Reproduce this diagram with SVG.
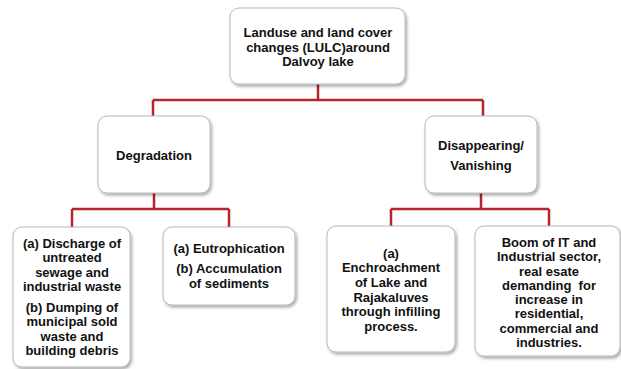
<svg xmlns="http://www.w3.org/2000/svg" width="621" height="369" viewBox="0 0 621 369">
<style>
.box{fill:#ffffff;stroke:#b8b8b8;stroke-width:1;filter:url(#sh)}
.t{font-family:"Liberation Sans",Arial,sans-serif;font-weight:bold;font-size:13px;fill:#111111;text-anchor:middle}
.c{fill:none;stroke:#b3262b;stroke-width:2.5}
</style>
<defs>
<filter id="sh" x="-20%" y="-20%" width="140%" height="140%">
<feDropShadow dx="1.5" dy="2" stdDeviation="1.5" flood-color="#000" flood-opacity="0.35"/>
</filter>
</defs>
<rect width="621" height="369" fill="#ffffff"/>
<g id="connectors">
<path class="c" d="M318,84 V100 M153,100 H483 M153,100 V116 M483,100 V116"/>
<path class="c" d="M154,193 V209 M72,209 H229 M72,209 V227 M229,209 V227"/>
<path class="c" d="M481,193 V209 M391,209 H549 M391,209 V226 M549,209 V226"/>
</g>
<g id="root">
<rect class="box" x="230" y="8" width="175" height="76" rx="9"/>
<text class="t" x="318" y="37">Landuse and land cover</text>
<text class="t" x="318" y="52">changes (LULC)around</text>
<text class="t" x="318" y="66">Dalvoy lake</text>
</g>
<g id="degradation">
<rect class="box" x="98" y="116" width="112" height="77" rx="9"/>
<text class="t" x="154" y="160">Degradation</text>
</g>
<g id="disappearing">
<rect class="box" x="425" y="116" width="112" height="77" rx="9"/>
<text class="t" x="481" y="150">Disappearing/</text>
<text class="t" x="481" y="170">Vanishing</text>
</g>
<g id="discharge">
<rect class="box" x="13" y="227" width="117" height="140" rx="9"/>
<text class="t" x="72" y="248">(a) Discharge of</text>
<text class="t" x="72" y="262">untreated</text>
<text class="t" x="72" y="277">sewage and</text>
<text class="t" x="72" y="291">industrial waste</text>
<text class="t" x="72" y="312">(b) Dumping of</text>
<text class="t" x="72" y="326">municipal sold</text>
<text class="t" x="72" y="341">waste and</text>
<text class="t" x="72" y="355">building debris</text>
</g>
<g id="eutrophication">
<rect class="box" x="163" y="227" width="132" height="78" rx="9"/>
<text class="t" x="229" y="253">(a) Eutrophication</text>
<text class="t" x="229" y="273">(b) Accumulation</text>
<text class="t" x="229" y="288">of sediments</text>
</g>
<g id="encroachment">
<rect class="box" x="327" y="226" width="128" height="126" rx="9"/>
<text class="t" x="391" y="258">(a)</text>
<text class="t" x="391" y="272">Enchroachment</text>
<text class="t" x="391" y="287">of Lake and</text>
<text class="t" x="391" y="302">Rajakaluves</text>
<text class="t" x="391" y="316">through infilling</text>
<text class="t" x="391" y="331">process.</text>
</g>
<g id="boom">
<rect class="box" x="475" y="226" width="145" height="130" rx="9"/>
<text class="t" x="549" y="247">Boom of IT and</text>
<text class="t" x="549" y="261">Industrial sector,</text>
<text class="t" x="549" y="276">real esate</text>
<text class="t" x="549" y="290" xml:space="preserve">demanding  for</text>
<text class="t" x="549" y="304">increase in</text>
<text class="t" x="549" y="318">residential,</text>
<text class="t" x="549" y="333">commercial and</text>
<text class="t" x="549" y="347">industries.</text>
</g>
</svg>
